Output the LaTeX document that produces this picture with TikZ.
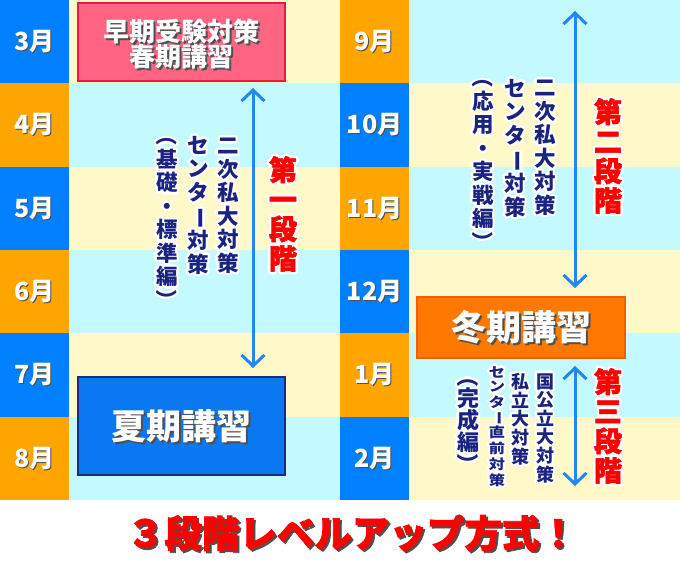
\documentclass[tikz,border=0pt]{standalone}
\usepackage{fontspec}
\setmainfont{Noto Sans CJK JP}
\newfontfamily\heavyfont{Noto Sans CJK JP}[BoldFeatures={FakeBold=2}]
\usepackage{graphicx}
\usetikzlibrary{arrows.meta,calc}
\definecolor{mblue}{HTML}{0080FF}
\definecolor{morange}{HTML}{FFA500}
\definecolor{bgy}{HTML}{FFF8C8}
\definecolor{bgc}{HTML}{C4FAFF}
\definecolor{pinkf}{HTML}{FF6482}
\definecolor{pinkd}{HTML}{E8184A}
\definecolor{bluef}{HTML}{0A78F0}
\definecolor{blued}{HTML}{1E2A80}
\definecolor{orf}{HTML}{FF7800}
\definecolor{ord}{HTML}{F06000}
\definecolor{arrblue}{HTML}{2088F0}
\definecolor{navy}{HTML}{1A2480}
\definecolor{redt}{HTML}{FF0000}
\definecolor{shad}{HTML}{505050}
\newcommand\vbar{\rotatebox[origin=c]{-90}{ー}}
\newcommand\lpar{\rotatebox[origin=c]{-90}{（}}
\newcommand\rpar{\rotatebox[origin=c]{-90}{）}}
\newcommand\otext[4]{%
  \foreach \a in {0,30,...,330}{\node[#3,text=white] (#1o\a) at ($(#2)+(\a:2.3)$) {#4};}
  \node[#3] (#1) at (#2) {#4};}
\newcommand\stext[5]{%
  \node[#3,text=shad] (#1s) at ($(#2)+(#5,#5)$) {#4};
  \node[#3] (#1) at (#2) {#4};}
\tikzset{
  month/.style={text=white,inner sep=0pt,font=\bfseries\fontsize{25}{27}\selectfont},
  vnavy/.style={text=navy,inner sep=0pt,align=center,font=\bfseries\fontsize{21.5}{23.5}\selectfont},
  vred/.style={text=redt,inner sep=0pt,align=center,font=\heavyfont\bfseries\fontsize{28}{29.5}\selectfont},
  vsmall/.style={text=navy,inner sep=0pt,align=center,font=\bfseries\fontsize{18}{18.6}\selectfont},
  vparen/.style={text=navy,inner sep=0pt,align=center,font=\bfseries\fontsize{22}{22}\selectfont},
  btitle/.style={text=white,inner sep=0pt,align=center,font=\bfseries\fontsize{26}{25}\selectfont},
  bigtitle/.style={text=white,inner sep=0pt,font=\bfseries\fontsize{35}{36}\selectfont},
  boxbase/.style={inner sep=0pt,line width=1.6pt},
  arr/.style={arrblue,line width=3pt,{Straight Barb[length=11pt,width=23pt]}-{Straight Barb[length=11pt,width=23pt]}},
}
\begin{document}
\begin{tikzpicture}[x=1pt,y=-1pt]
\useasboundingbox (0,0) rectangle (680,569);
\fill[white] (0,0) rectangle (680,569);
% backgrounds
\foreach \i/\c in {0/bgy,1/bgc,2/bgy,3/bgc,4/bgy,5/bgc}{
  \fill[\c] (69,{\i*83.333}) rectangle (340,{(\i+1)*83.333});}
\foreach \i/\c in {0/bgc,1/bgy,2/bgc,3/bgy,4/bgc,5/bgy}{
  \fill[\c] (409,{\i*83.333}) rectangle (680,{(\i+1)*83.333});}
\foreach \i/\c in {0/mblue,1/morange,2/mblue,3/morange,4/mblue,5/morange}{
  \fill[\c] (0,{\i*83.333}) rectangle (69,{(\i+1)*83.333});}
\foreach \i/\c in {0/morange,1/mblue,2/morange,3/mblue,4/morange,5/mblue}{
  \fill[\c] (340,{\i*83.333}) rectangle (409,{(\i+1)*83.333});}
% month labels
\stext{m3}{34.5,41.7}{month}{3月}{1}
\stext{m4}{34.5,125}{month}{4月}{1}
\stext{m5}{34.5,208.3}{month}{5月}{1}
\stext{m6}{34.5,291.7}{month}{6月}{1}
\stext{m7}{34.5,375}{month}{7月}{1}
\stext{m8}{34.5,458.3}{month}{8月}{1}
\stext{m9}{374.5,41.7}{month}{9月}{1}
\stext{m10}{374.5,125}{month}{10月}{1}
\stext{m11}{374.5,208.3}{month}{11月}{1}
\stext{m12}{374.5,291.7}{month}{12月}{1}
\stext{m1}{374.5,375}{month}{1月}{1}
\stext{m2}{374.5,458.3}{month}{2月}{1}
% boxes
\node[boxbase,fill=pinkf,draw=pinkd,minimum width=207pt,minimum height=78pt] (pink) at (181.5,42) {};
\node[boxbase,fill=bluef,draw=blued,line width=2pt,minimum width=207pt,minimum height=98pt] (summer) at (181.5,426) {};
\node[boxbase,fill=orf,draw=ord,minimum width=208pt,minimum height=61pt] (winter) at (521,327.5) {};
\stext{pinkt}{181.5,44.5}{btitle}{早期受験対策\\春期講習}{1.6}
\stext{summert}{summer.center}{bigtitle}{夏期講習}{2}
\stext{wintert}{winter.center}{bigtitle}{冬期講習}{2}
% arrows
\coordinate (a1t) at (253,88);
\coordinate (a1b) at (253,368);
\coordinate (a2t) at (575,11);
\coordinate (a2b) at (575,288);
\coordinate (a3t) at (575,366);
\coordinate (a3b) at (575,486);
\draw[arr] (a1t) -- (a1b);
\draw[arr] (a2t) -- (a2b);
\draw[arr] (a3t) -- (a3b);
% left vertical texts
\otext{l1}{228,206}{vnavy}{二\\次\\私\\大\\対\\策}
\otext{l2}{198,205}{vnavy}{セ\\ン\\タ\\\vbar\\対\\策}
\otext{l3}{167,218}{vnavy}{\lpar\\基\\礎\\・\\標\\準\\編\\\rpar}
\otext{s1}{283,214}{vred}{第\\一\\段\\階}
% right top vertical texts
\otext{r1}{545,148}{vnavy}{二\\次\\私\\大\\対\\策}
\otext{r2}{515,148}{vnavy}{セ\\ン\\タ\\\vbar\\対\\策}
\otext{r3}{483,160}{vnavy}{\lpar\\応\\用\\・\\実\\戦\\編\\\rpar}
\otext{s2}{608,156}{vred}{第\\二\\段\\階}
% right bottom vertical texts
\otext{b1}{545,428}{vsmall}{国\\公\\立\\大\\対\\策}
\otext{b2}{520,419}{vsmall}{私\\立\\大\\対\\策}
\otext{b3}{497,428}{vsmall}{\scalebox{0.95}[0.8]{\fontsize{17}{17.5}\selectfont\begin{tabular}{@{}c@{}}セ\\ン\\タ\\\vbar\\直\\前\\対\\策\end{tabular}}}
\otext{b4}{468,420}{vparen}{\lpar\\完\\成\\編\\\rpar}
\otext{s3}{608,426}{vred}{第\\三\\段\\階}
% bottom title
\stext{title}{352,533}{text=redt,inner sep=0pt,font=\heavyfont\bfseries\fontsize{37.5}{40}\selectfont}{３段階レベルアップ方式！}{2}
\end{tikzpicture}
\end{document}
